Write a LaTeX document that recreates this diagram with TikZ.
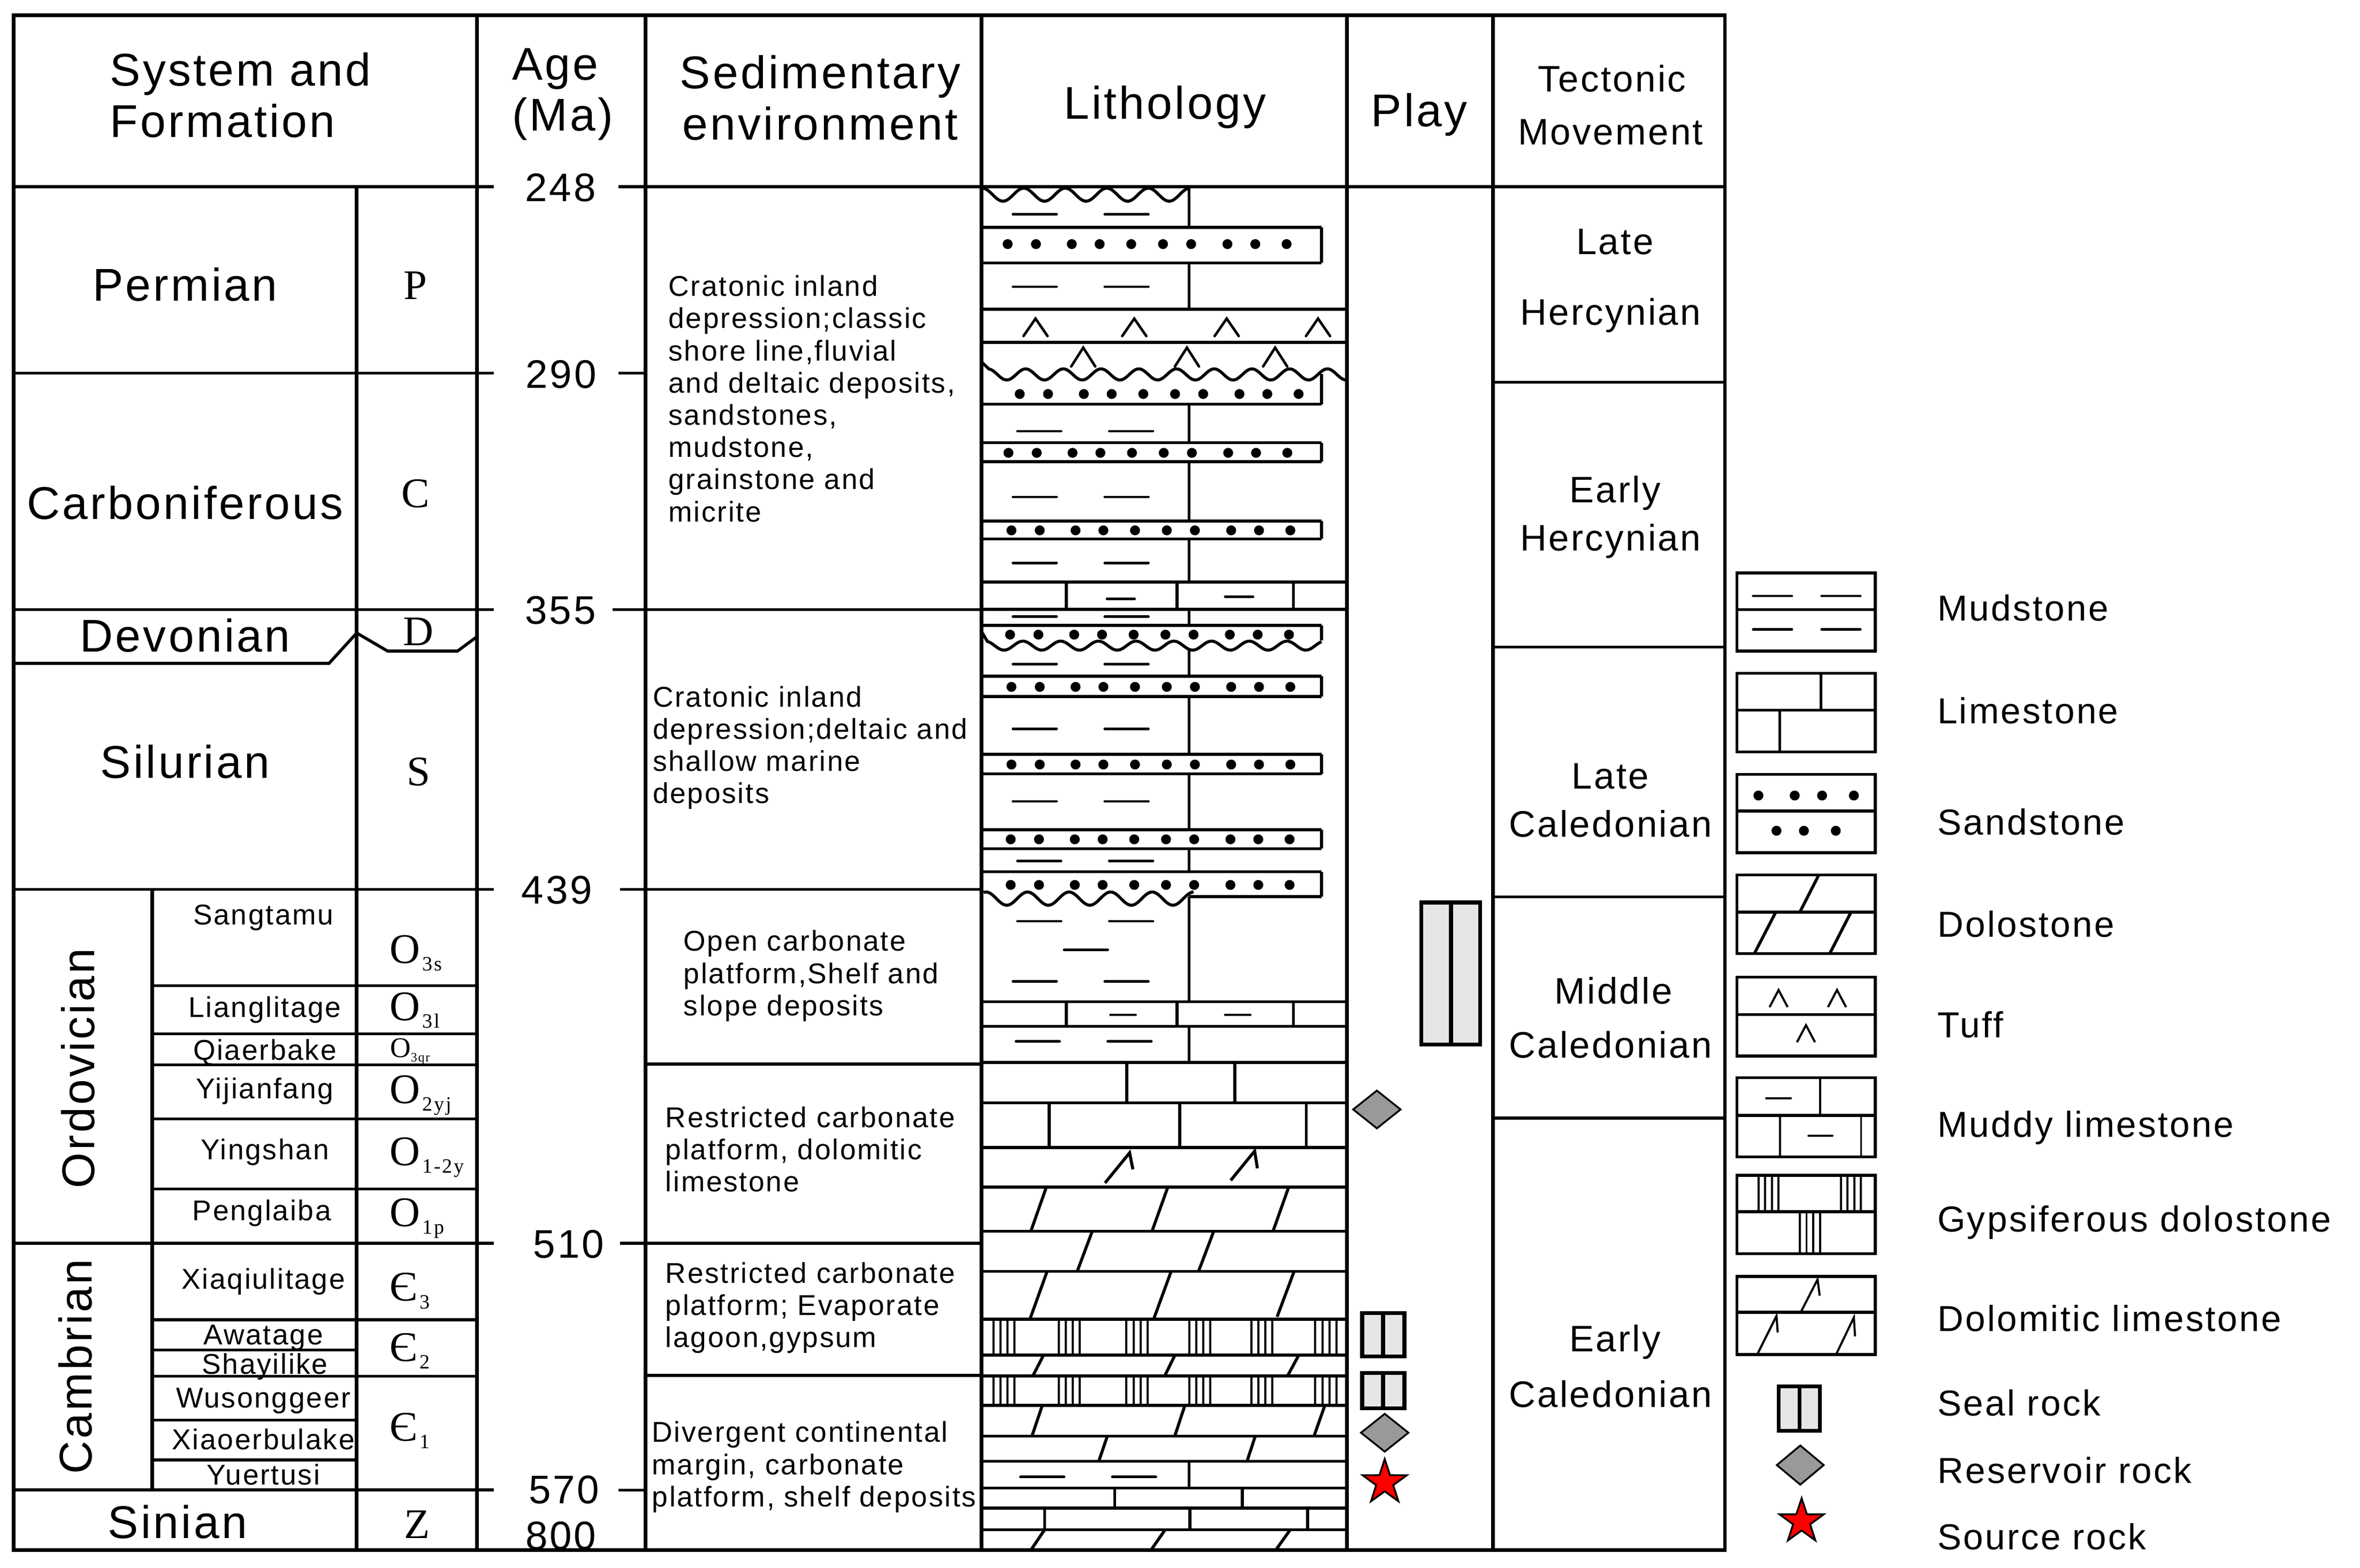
\documentclass[tikz,border=0pt]{standalone}
\usepackage{fontspec}
\setmainfont[LetterSpace=5]{Liberation Sans}
\newfontfamily\symfont[LetterSpace=8]{Liberation Serif}
\usetikzlibrary{shapes.geometric}
\definecolor{seal}{HTML}{E6E6E6}
\definecolor{resv}{HTML}{999999}
\definecolor{srce}{HTML}{FF0000}

% lowered index of a formation symbol
\newcommand{\lowsub}[2][13.5]{\kern1.5pt\raisebox{-5pt}{\fontsize{#1}{#1}\selectfont #2}}
% lines of a sedimentary environment text
\newcommand{\envtext}[4]{%
  \foreach \envline [count=\k] in {#4}
    \node[envtxt] (#1-\k) at (#2,{#3+21.4*(\k-1)}) {\envline};}

\begin{document}
\begin{tikzpicture}[x=1pt,y=-1pt]
    \tikzset{%
      border/.style={line width=2.4pt},
      rowline/.style={line width=2pt},
      agetick/.style={line width=1.8pt},
      litho/.style={line width=2pt},
      mudline/.style={line width=1.7pt, line cap=round},
      gypline/.style={line width=1.4pt},
      head/.style={font=\fontsize{30.5}{30.5}\selectfont, anchor=base, inner sep=0pt},
      tect/.style={font=\fontsize{24.5}{24.5}\selectfont, anchor=base, inner sep=0pt},
      sysname/.style={font=\fontsize{30.5}{30.5}\selectfont, anchor=base, inner sep=0pt},
      fmname/.style={font=\fontsize{19}{19}\selectfont, anchor=base, inner sep=0pt},
      sym/.style={font=\symfont\fontsize{28}{28}\selectfont, anchor=base, inner sep=0pt},
      agetxt/.style={font=\fontsize{26.5}{26.5}\selectfont, anchor=base, inner sep=0pt},
      envtxt/.style={font=\fontsize{19}{19}\selectfont, anchor=base west, inner sep=0pt},
      legtxt/.style={font=\fontsize{24}{24}\selectfont, anchor=base west, inner sep=0pt},
      sealbox/.style={line width=2.6pt, fill=seal},
      resbox/.style={diamond, draw, line width=1.2pt, fill=resv, inner sep=0pt,
        minimum width=32pt, minimum height=25.6pt},
      srcstar/.style={star, star points=5, star point ratio=2.6, draw, line width=1.2pt,
        fill=srce, inner sep=0pt, minimum size=31pt},
    }
    \useasboundingbox (0,0) rectangle (1568,1041.6);

    % table frame and columns
    \draw[border] (9,10) rectangle (1146,1030);
    \foreach \x in {317,429,652,895,992}
      \draw[border] (\x,10) -- (\x,1030);
    \draw[border] (237,124) -- (237,1030);
    \draw[border] (101,591) -- (101,990);
    \draw[rowline] (9,124) -- (328,124) (411,124) -- (1146,124);

    % system boundaries and age ticks
    \foreach \y in {248,405,591,826,990}
      \draw[rowline] (9,\y) -- (328,\y);
    \draw[agetick] (411,248) -- (429,248) (411,990) -- (429,990);
    \draw[rowline] (407,405) -- (652,405) (412,591) -- (652,591)
      (412,826) -- (652,826) (429,707) -- (652,707) (429,914) -- (652,914);
    \draw[rowline] (9,440.8) -- (218.6,440.8) -- (237,420.6) -- (257.5,432.6)
      -- (304,432.6) -- (317,423);

    % formation boundaries
    \foreach \y in {655,687,707.5,743.5,790,877,914.5}
      \draw[rowline] (101,\y) -- (317,\y);
    \foreach \y in {897,943.6,970}
      \draw[rowline] (101,\y) -- (237,\y);

    % tectonic movements
    \foreach \y in {254,430,596,743}
      \draw[rowline] (992,\y) -- (1146,\y);

    % headers
    \node[head, anchor=base west] (hsys1) at (73,57) {System and};
    \node[head, anchor=base west] (hsys2) at (73,91) {Formation};
    \node[head, anchor=base west] (hage1) at (340,53) {Age};
    \node[head, anchor=base west] (hage2) at (340,87) {(Ma)};
    \node[head] (hsed1) at (545,59) {Sedimentary};
    \node[head] (hsed2) at (545,93) {environment};
    \node[head] (hlith) at (774,79) {Lithology};
    \node[head] (hplay) at (943,84) {Play};
    \node[tect] (htec1) at (1071,61) {Tectonic};
    \node[tect] (htec2) at (1070,96) {Movement};

    % systems
    \node[sysname] (perm) at (123,200) {Permian};
    \node[sysname] (carb) at (123,345) {Carboniferous};
    \node[sysname] (devo) at (123,433) {Devonian};
    \node[sysname] (silu) at (123,517) {Silurian};
    \node[sysname] (sini) at (118,1022) {Sinian};
    \node[sysname, anchor=center, rotate=90] (ordo) at (52,710) {Ordovician};
    \node[sysname, anchor=center, rotate=90] (camb) at (50,908) {Cambrian};

    % formations
    \node[fmname] (fsang) at (175,614.5) {Sangtamu};
    \node[fmname] (fliang) at (176,676) {Lianglitage};
    \node[fmname] (fqiae) at (176,704.5) {Qiaerbake};
    \node[fmname] (fyiji) at (176,730) {Yijianfang};
    \node[fmname] (fying) at (176,770.5) {Yingshan};
    \node[fmname] (fpeng) at (174,811) {Penglaiba};
    \node[fmname] (fxiaq) at (175,856.5) {Xiaqiulitage};
    \node[fmname] (fawat) at (175,893.5) {Awatage};
    \node[fmname] (fshay) at (176,913) {Shayilike};
    \node[fmname] (fwuso) at (175,935.5) {Wusonggeer};
    \node[fmname] (fxiao) at (175,963) {Xiaoerbulake};
    \node[fmname] (fyuer) at (175,986.5) {Yuertusi};

    % symbols
    \node[sym] (sp) at (276,199) {P};
    \node[sym] (sc) at (276,337) {C};
    \node[sym] (sd) at (278,429) {D};
    \node[sym] (ss) at (278,522) {S};
    \node[sym] (sz) at (277,1022) {Z};
    \node[sym, anchor=base west] (so3s) at (258.6,640) {O\lowsub{3s}};
    \node[sym, anchor=base west] (so3l) at (258.6,678) {O\lowsub{3l}};
    \node[sym, anchor=base west, font=\symfont\fontsize{19}{19}\selectfont]
      (so3q) at (259,702.5) {O\raisebox{-3pt}{\fontsize{8.5}{8.5}\selectfont 3qr}};
    \node[sym, anchor=base west] (so2) at (258.6,733) {O\lowsub{2yj}};
    \node[sym, anchor=base west] (so12) at (258.6,774.5) {O\lowsub{1-2y}};
    \node[sym, anchor=base west] (so1) at (258.6,815) {O\lowsub{1p}};
    \node[sym, anchor=base west] (se3) at (258.6,864.5) {Є\lowsub{3}};
    \node[sym, anchor=base west] (se2) at (258.6,904.5) {Є\lowsub{2}};
    \node[sym, anchor=base west] (se1) at (258.6,957.5) {Є\lowsub{1}};

    % ages
    \node[agetxt] (a248) at (372.4,134) {248};
    \node[agetxt] (a290) at (372.8,258) {290};
    \node[agetxt] (a355) at (372.4,414.5) {355};
    \node[agetxt] (a439) at (370,600.5) {439};
    \node[agetxt] (a510) at (377.8,835.8) {510};
    \node[agetxt] (a570) at (374.7,999) {570};
    \node[agetxt] (a800) at (372.6,1029.6) {800};

    % sedimentary environments
    \envtext{envA}{444}{196.8}{{Cratonic inland},{depression;classic},{shore line,fluvial},
      {and deltaic deposits,},{sandstones,},{mudstone,},{grainstone and},{micrite}}
    \envtext{envB}{433.5}{469.7}{{Cratonic inland},{depression;deltaic and},
      {shallow marine},{deposits}}
    \envtext{envC}{454}{632}{{Open carbonate},{platform,Shelf and},{slope deposits}}
    \envtext{envD}{442}{749.1}{{Restricted carbonate},{platform, dolomitic},{limestone}}
    \envtext{envE}{442}{852.5}{{Restricted carbonate},{platform; Evaporate},{lagoon,gypsum}}
    \envtext{envF}{433}{958.3}{{Divergent continental},{margin, carbonate},
      {platform, shelf deposits}}

    % lithology: beds across the whole column
    \foreach \y in {205.5,227.5,386.7,404.8,665.6,682,706,732.8,762.5,788.8,818.1,
        844.8,876.5,900.3,914.3,933.9,954.3,971,988.8,1002,1016.5}
      \draw[litho] (652,\y) -- (895,\y);
    % sand and mud beds
    \foreach \y in {151,174.7,268.6,294.2,306.7,346.2,358.1,415.5,449.3,462.8,501.3,
        514.2,551.4,563.9,579.3}
      \draw[litho] (652,\y) -- (878,\y);
    \draw[litho] (790,595.7) -- (878,595.7);
    \foreach \ya/\yb in {124.5/151,174.7/205.5,268.6/294.2,306.7/346.2,358.1/386.7,
        404.8/415.5,432/449.3,462.8/501.3,514.2/551.4,563.9/579.3,595.7/665.6,
        682/706,971/988.8}
      \draw[litho] (790,\ya) -- (790,\yb);
    \foreach \ya/\yb in {151/174.7,248.3/268.6,294.2/306.7,346.2/358.1,415.5/425.5,
        449.3/462.8,501.3/514.2,551.4/563.9,579.3/595.7}
      \draw[litho] (878,\ya) -- (878,\yb);
    % mudstone
    \foreach \y/\s in {142.4/0,190.5/0,286.5/3,330.2/0,374/0,409.8/0,441.2/0,484.3/0,
        532.5/0,572/3,612.1/3,652.1/0,692/2,981.4/5}
      \draw[mudline] (673+\s,\y) -- (702+\s,\y) (734+\s,\y) -- (763+\s,\y);
    \draw[mudline] (707,631) -- (736,631);
    % sandstone
    \foreach \y/\s in {162.2/0,261.8/8,300.9/0.5,352.4/2.5,421.7/1.6,456.4/2.5,508/2.5,
        557.7/2,588/2}
      \foreach \d in {669.5,688.3,712.1,730.6,751.6,772.7,791.4,815.5,834,854.8}
        \fill (\d+\s,\y) circle[radius=3.3pt];
    % unconformities
    \draw[litho] plot[domain=652.6:790.5, samples=120, smooth]
      (\x,{129.35-4.35*cos(((\x-652.6)/27.6)*360)});
    \draw[litho] (652.6,241) -- plot[domain=657:895, samples=160, smooth]
      (\x,{248.8+3.7*cos(((\x-668.9)/25.06)*360)});
    \draw[litho] (652.6,420.4) -- plot[domain=656:878, samples=160, smooth]
      (\x,{429+3*cos(((\x-667.1)/25.06)*360)});
    \draw[litho] plot[domain=653.5:793, samples=120, smooth]
      (\x,{597.1+4.4*cos(((\x-668.9)/27.6)*360)});
    % tuff
    \foreach \x/\ya/\yb in {688/211.7/223.3,753.6/211.7/223.3,815/211.7/223.3,
        875.7/211.7/223.3,719.7/231/243.5,788.6/231/243.5,847.2/231/243.5}
      \draw[mudline] (\x-8,\yb) -- (\x,\ya) -- (\x+8,\yb);
    % limestone and muddy limestone
    \foreach \x/\ya/\yb in {708.5/386.7/404.8,782/386.7/404.8,859.4/386.7/404.8,
        708.5/665.6/682,782/665.6/682,859.4/665.6/682,748.7/706/732.8,820.4/706/732.8,
        697/732.8/762.5,783.8/732.8/762.5,867.9/732.8/762.5,740.6/988.8/1002,
        825.5/988.8/1002,694/1002/1016.5,790.5/1002/1016.5,868.8/1002/1016.5}
      \draw[litho] (\x,\ya) -- (\x,\yb);
    \draw[mudline] (735.5,398) -- (753.8,398) (814,396.5) -- (832.5,396.5)
      (737.8,674.3) -- (754.5,674.3) (814,674.3) -- (830.7,674.3);
    % dolomitic limestone
    \draw[litho] (734.2,786) -- (750.5,766) -- (752.7,777);
    \draw[litho] (817.7,784.3) -- (833.6,764.8) -- (835.4,776.3);
    % dolostone
    \foreach \p/\q/\ya/\yb in {684.9/695.2/788.8/818.1,765.4/775.9/788.8/818.1,
        845.8/856.2/788.8/818.1,715.7/725.7/818.1/844.8,796.3/806.4/818.1/844.8,
        684.3/695.7/844.8/876.5,766.5/778.1/844.8/876.5,848.5/859.8/844.8/875,
        686.2/693.4/900.3/914.3,773.8/780.7/900.3/914.3,855.4/863/900.3/914.3,
        685.6/692.5/933.9/954.3,780.5/787.2/933.9/954.3,873/880.2/933.9/954.3,
        730/735.7/954.3/971,828.5/834/954.3/971,684.9/694/1016.5/1030,
        764.7/774.1/1016.5/1030,847.6/857.2/1016.5/1030}
      \draw[litho] (\p,\yb) -- (\q,\ya);
    % gypsiferous dolostone
    \foreach \ya/\yb in {876.5/900.3,914.3/933.9}
      \foreach \g in {660,703.4,748.4,790.1,831.3,873.9}
        \foreach \k in {0,1,2,3}
          \draw[gypline] (\g+4.7*\k,\ya) -- (\g+4.7*\k,\yb);

    % play
    \draw[sealbox] (944.2,599.7) rectangle (983.5,694) (964,599.7) -- (964,694);
    \draw[sealbox] (905,872.4) rectangle (933.1,901.3) (918.9,872.4) -- (918.9,901.3);
    \draw[sealbox] (905,912.2) rectangle (933.1,935.7) (918.9,912.2) -- (918.9,935.7);
    \node[resbox] (res1) at (914.8,737.2) {};
    \node[resbox] (res2) at (920,952) {};
    \node[srcstar] (src1) at (920,985) {};

    % tectonic movements
    \node[tect] (tlh1) at (1073,169) {Late};
    \node[tect] (tlh2) at (1070,216) {Hercynian};
    \node[tect] (teh1) at (1073,334) {Early};
    \node[tect] (teh2) at (1070,366) {Hercynian};
    \node[tect] (tlc1) at (1070,524) {Late};
    \node[tect] (tlc2) at (1070,556) {Caledonian};
    \node[tect] (tmc1) at (1072,667) {Middle};
    \node[tect] (tmc2) at (1070,703) {Caledonian};
    \node[tect] (tec1) at (1073,898) {Early};
    \node[tect] (tec2) at (1070,935) {Caledonian};

    % legend
    \foreach \ya/\ym/\yb in {380.6/405/432.7,447.4/471.9/499.6,514.5/538.8/566.7,
        581.4/606.1/633.6,649.2/674.2/701.6,716.1/741.2/768.7,781/805.2/833,
        848.1/872/900}
      \draw[litho] (1154,\ya) rectangle (1246,\yb) (1154,\ym) -- (1246,\ym);
    \draw[mudline] (1164.8,396) -- (1190.5,396) (1210.3,396) -- (1236,396)
      (1164.8,418.2) -- (1190.5,418.2) (1210.3,418.2) -- (1236,418.2);
    \draw[litho] (1209.8,447.4) -- (1209.8,471.9) (1182.5,471.9) -- (1182.5,499.6);
    \foreach \d in {1168.3,1192.4,1210.6,1231.7}
      \fill (\d,528.6) circle[radius=3.3pt];
    \foreach \d in {1180.3,1198.5,1219.7}
      \fill (\d,552) circle[radius=3.3pt];
    \draw[litho] (1195.8,606.1) -- (1208.4,581.4) (1165.6,633.6) -- (1179.8,606.1)
      (1215.7,633.6) -- (1229.8,606.1);
    \foreach \x/\ya/\yb in {1181.7/657.8/669.2,1220.5/657.8/669.2,1199.9/681.2/692.5}
      \draw[gypline] (\x-6,\yb) -- (\x,\ya) -- (\x+6,\yb);
    \draw[gypline] (1209.2,716.1) -- (1209.2,741.2) (1182.5,741.2) -- (1182.5,768.7)
      (1236.5,741.2) -- (1236.5,768.7);
    \draw[mudline] (1173.6,729.8) -- (1189.7,729.8) (1201.7,754.7) -- (1217.3,754.7);
    \foreach \g/\ya/\yb in {1168.3/781/805.2,1223.1/781/805.2,1195.8/805.2/833}
      \foreach \k in {0,1,2,3}
        \draw[gypline] (\g+4.45*\k,\ya) -- (\g+4.45*\k,\yb);
    \draw[gypline] (1196.4,872) -- (1207.6,850.1) -- (1209,860.9);
    \draw[gypline] (1167.5,900) -- (1180.3,874.4) -- (1181.1,885.4);
    \draw[gypline] (1219.9,900) -- (1231.7,875.4) -- (1232.5,888);
    \draw[sealbox] (1181.7,921.3) rectangle (1209.2,950.8) (1195.6,921.3) -- (1195.6,950.8);
    \node[resbox, minimum width=31.6pt, minimum height=26.5pt] (res0) at (1196.1,973.5) {};
    \node[srcstar] (src0) at (1197,1011) {};

    \node[legtxt] (lmud) at (1287,412.6) {Mudstone};
    \node[legtxt] (llime) at (1287,480.6) {Limestone};
    \node[legtxt] (lsand) at (1287,554.6) {Sandstone};
    \node[legtxt] (ldolo) at (1287,622.6) {Dolostone};
    \node[legtxt] (ltuff) at (1287,689.6) {Tuff};
    \node[legtxt] (lmlime) at (1287,755.6) {Muddy limestone};
    \node[legtxt] (lgyps) at (1287,818.6) {Gypsiferous dolostone};
    \node[legtxt] (ldlime) at (1287,884.6) {Dolomitic limestone};
    \node[legtxt] (lseal) at (1287,940.6) {Seal rock};
    \node[legtxt] (lres) at (1287,985.6) {Reservoir rock};
    \node[legtxt] (lsrc) at (1287,1029.6) {Source rock};
  \end{tikzpicture}
\end{document}
